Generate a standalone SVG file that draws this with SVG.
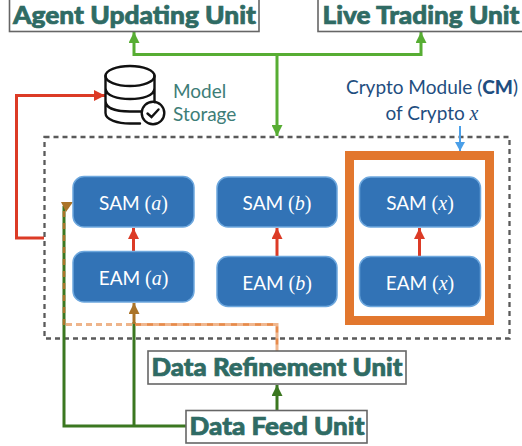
<svg xmlns="http://www.w3.org/2000/svg" width="522" height="446" viewBox="0 0 522 446">
<style>
.unit{fill:#fff;stroke:#666;stroke-width:1.6}
.title{font-family:"Lato","Liberation Sans",sans-serif;font-weight:900;font-size:25px;fill:#2f6b64;stroke:#2f6b64;stroke-width:.7;text-anchor:middle}
.mod{fill:#3273b6;stroke:#6ea8de;stroke-width:1.5}
.lab{font-family:"Lato","Liberation Sans",sans-serif;font-size:19px;fill:#fff;text-anchor:middle}
.var{font-family:"Liberation Serif",serif;font-style:italic;font-size:20px}
.par{font-family:"Liberation Serif",serif;font-size:20px}
.teal{font-family:"Lato","Liberation Sans",sans-serif;font-size:19px;fill:#3d7d77}
.navy{font-family:"Lato","Liberation Sans",sans-serif;font-size:19px;fill:#1f4e80;text-anchor:middle}
.ln{fill:none;stroke-width:3}
.g{stroke:#57ad33}.r{stroke:#dc3b26}.d{stroke:#3b7720}
.ico{fill:none;stroke:#111;stroke-width:2.4;stroke-linecap:round}
</style>
<defs>
<marker id="ag" markerUnits="userSpaceOnUse" markerWidth="11" markerHeight="11" refX="11" refY="5.5" orient="auto"><path d="M0 0L11 5.5L0 11Z" fill="#57ad33"/></marker>
<marker id="ar" markerUnits="userSpaceOnUse" markerWidth="11" markerHeight="11" refX="11" refY="5.5" orient="auto"><path d="M0 0L11 5.5L0 11Z" fill="#dc3b26"/></marker>
<marker id="ad" markerUnits="userSpaceOnUse" markerWidth="11" markerHeight="11" refX="11" refY="5.5" orient="auto"><path d="M0 0L11 5.5L0 11Z" fill="#3b7720"/></marker>
<marker id="ab" markerUnits="userSpaceOnUse" markerWidth="11" markerHeight="11" refX="11" refY="5.5" orient="auto"><path d="M0 0L11 5.5L0 11Z" fill="#ab7428"/></marker>
<marker id="au" markerUnits="userSpaceOnUse" markerWidth="9" markerHeight="11" refX="9" refY="5" orient="auto"><path d="M0 0L9 5L0 10Z" fill="#4a9fe8"/></marker>
</defs>

<rect id="cm-boundary" x="44.500" y="137" width="465" height="201.500" fill="none" stroke="#5a5a5a" stroke-width="2.300" stroke-dasharray="5 4"/>
<rect id="cm-x" x="349.500" y="155.500" width="140" height="165" fill="#fff" stroke="#e2772e" stroke-width="9"/>

<g id="connectors">
<path class="ln g" d="M277 54.500H134V32" marker-end="url(#ag)"/>
<path class="ln g" d="M277 54.500H421V32" marker-end="url(#ag)"/>
<path class="ln g" d="M277 54.500V136" marker-end="url(#ag)"/>
<path class="ln r" d="M44 238H16.500V95.500H105" marker-end="url(#ar)"/>
<path class="ln r" d="M133.500 251V228" marker-end="url(#ar)"/>
<path class="ln r" d="M277 256V228" marker-end="url(#ar)"/>
<path class="ln r" d="M419.500 256V228" marker-end="url(#ar)"/>
<path d="M460 126V151" fill="none" stroke="#4a9fe8" stroke-width="2" marker-end="url(#au)"/>
<path class="ln d" d="M186 426H64V206"/>
<path class="ln d" d="M134 426V322"/>
<path class="ln d" d="M277 410V385" marker-end="url(#ad)"/>
<path d="M66 324.500H133" fill="none" stroke="#eeb48a" stroke-width="3" stroke-dasharray="6 4"/>
<path d="M135 324.500H277V351" fill="none" stroke="#f0b78f" stroke-width="3"/>
<path d="M135 324.500H277V351" fill="none" stroke="#e2772e" stroke-width="2.500" stroke-dasharray="6 6" opacity=".7"/>
<path d="M64 325V206" fill="none" stroke="#ab7428" stroke-width="2.500" stroke-dasharray="6 6"/>
<path d="M134 324V303" class="ln" stroke="#ab7428" marker-end="url(#ab)"/>
<path d="M61 202L73 202L66 212Z" fill="#ab7428"/>
</g>

<g id="agent-updating-unit"><rect class="unit" x="9.500" y="-2" width="249.500" height="33.500"/><text class="title" x="134.500" y="24" textLength="243" lengthAdjust="spacingAndGlyphs">Agent Updating Unit</text></g>
<g id="live-trading-unit"><rect class="unit" x="318" y="-2" width="206" height="33.500"/><text class="title" x="421" y="24" textLength="197" lengthAdjust="spacingAndGlyphs">Live Trading Unit</text></g>

<g id="model-storage">
<ellipse class="ico" cx="130" cy="76" rx="24.500" ry="10"/>
<path class="ico" d="M105.500 76V113C105.500 120 118 123.500 130 123.500H140M154.500 76V102M105.500 88C105.500 96 118 99 130 99S154.500 96 154.500 88M105.500 101C105.500 109 118 111.500 130 111.500H141"/>
<circle class="ico" cx="153" cy="113" r="11.300" fill="#fff"/>
<path class="ico" d="M147.500 113.500L151.500 117L158.500 109.500"/>
<text class="teal" x="173" y="98">Model</text><text class="teal" x="173" y="121">Storage</text>
</g>

<g id="cm-label">
<text class="navy" x="432" y="94" textLength="172" lengthAdjust="spacingAndGlyphs">Crypto Module (<tspan font-weight="900">CM</tspan>)</text>
<text class="navy" x="432" y="120">of Crypto <tspan class="var">x</tspan></text>
</g>

<g id="sam-a"><rect class="mod" x="73" y="176.500" width="121" height="50.500" rx="11"/><text class="lab" x="133.500" y="210">SAM <tspan class="par">(</tspan><tspan class="var">a</tspan><tspan class="par">)</tspan></text></g>
<g id="eam-a"><rect class="mod" x="73" y="251.500" width="121" height="50.500" rx="11"/><text class="lab" x="133.500" y="285">EAM <tspan class="par">(</tspan><tspan class="var">a</tspan><tspan class="par">)</tspan></text></g>
<g id="sam-b"><rect class="mod" x="217" y="177" width="120" height="50" rx="11"/><text class="lab" x="277" y="210">SAM <tspan class="par">(</tspan><tspan class="var">b</tspan><tspan class="par">)</tspan></text></g>
<g id="eam-b"><rect class="mod" x="217" y="256.500" width="120" height="50" rx="11"/><text class="lab" x="277" y="289.500">EAM <tspan class="par">(</tspan><tspan class="var">b</tspan><tspan class="par">)</tspan></text></g>
<g id="sam-x"><rect class="mod" x="359.500" y="177" width="121" height="50" rx="11"/><text class="lab" x="420" y="210">SAM <tspan class="par">(</tspan><tspan class="var">x</tspan><tspan class="par">)</tspan></text></g>
<g id="eam-x"><rect class="mod" x="359.500" y="256.500" width="121" height="50" rx="11"/><text class="lab" x="420" y="289.500">EAM <tspan class="par">(</tspan><tspan class="var">x</tspan><tspan class="par">)</tspan></text></g>

<g id="data-refinement-unit"><rect class="unit" x="148" y="351" width="258" height="33"/><text class="title" x="277" y="376" textLength="251" lengthAdjust="spacingAndGlyphs">Data Refinement Unit</text></g>
<g id="data-feed-unit"><rect class="unit" x="186" y="410.500" width="181" height="32.500"/><text class="title" x="277" y="435" textLength="175" lengthAdjust="spacingAndGlyphs">Data Feed Unit</text></g>
</svg>
